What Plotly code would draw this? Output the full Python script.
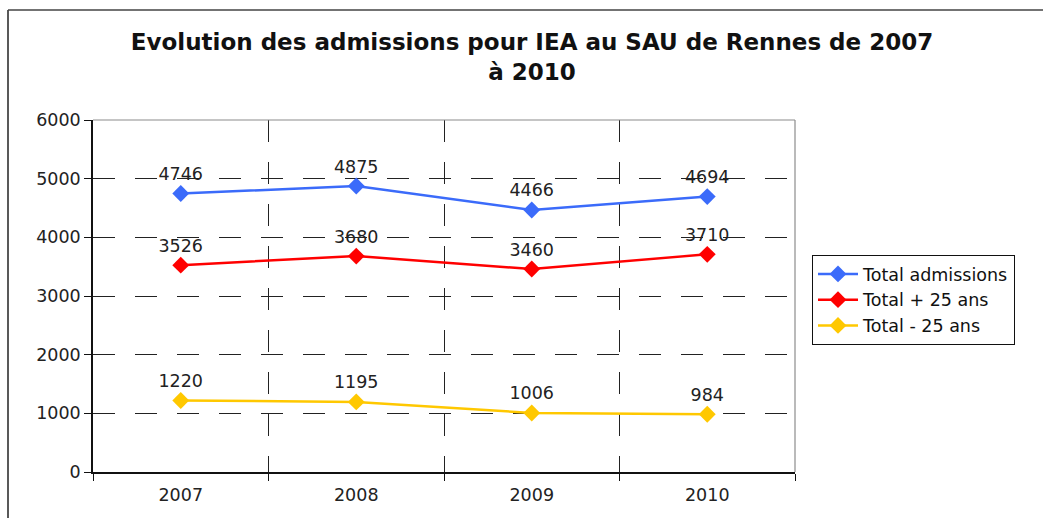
import plotly.graph_objects as go

years = ["2007", "2008", "2009", "2010"]
total_admissions = [4746, 4875, 4466, 4694]
total_plus_25 = [3526, 3680, 3460, 3710]
total_minus_25 = [1220, 1195, 1006, 984]

series = [
    ("Total admissions", total_admissions, "#3B6BFA"),
    ("Total + 25 ans", total_plus_25, "#FF0000"),
    ("Total - 25 ans", total_minus_25, "#FFC800"),
]

FONT = "DejaVu Sans"
W, H = 1043, 518
L, R, T, B = 93, 1043 - 795, 120, 518 - 472
pw, ph = W - L - R, H - T - B

fig = go.Figure()
for name, vals, col in series:
    fig.add_trace(go.Scatter(
        x=years, y=vals, name=name, mode="lines+markers+text",
        line=dict(color=col, width=2.5),
        marker=dict(symbol="diamond", size=13, color=col),
        text=[str(v) for v in vals], textposition="top center",
        textfont=dict(family=FONT, size=17.5, color="#222222"),
        cliponaxis=False,
    ))

def px_x(p):
    return (p - L) / pw

def px_y(p):
    return (H - B - p) / ph

shapes = [
    dict(type="line", xref="paper", yref="paper", x0=0, x1=1, y0=1, y1=1,
         line=dict(color="#8C8C8C", width=1.2), layer="above"),
    dict(type="line", xref="paper", yref="paper", x0=1, x1=1, y0=0, y1=1,
         line=dict(color="#8C8C8C", width=1.2), layer="above"),
    dict(type="line", xref="paper", yref="paper", x0=px_x(8), x1=px_x(8),
         y0=px_y(10), y1=px_y(520), line=dict(color="#222222", width=1.5)),
    dict(type="line", xref="paper", yref="paper", x0=px_x(8), x1=px_x(1045),
         y0=px_y(10), y1=px_y(10), line=dict(color="#444444", width=1.5)),
]

fig.update_layout(
    width=W, height=H,
    margin=dict(l=L, r=R, t=T, b=B),
    paper_bgcolor="white", plot_bgcolor="white",
    font=dict(family=FONT, size=17.5, color="#222222"),
    title=dict(
        text="<b>Evolution des admissions pour IEA au SAU de Rennes de 2007<br>à 2010</b>",
        x=532 / W, xanchor="center", xref="container",
        y=1 - 50 / H, yanchor="top", yref="container",
        font=dict(family=FONT, size=23, color="#111111"),
    ),
    showlegend=True,
    legend=dict(
        x=px_x(812), y=px_y(255), xanchor="left", yanchor="top",
        bordercolor="#111111", borderwidth=1, bgcolor="white",
        font=dict(family=FONT, size=17.5, color="#111111"),
        tracegroupgap=0, itemwidth=40,
    ),
    shapes=shapes,
)

fig.update_xaxes(
    type="category", range=[-0.5, 3.5], tickson="boundaries",
    showgrid=True, gridcolor="#222222", griddash="22px,20px", gridwidth=1,
    showline=True, linecolor="#111111", linewidth=1.5,
    ticks="outside", ticklen=7, tickcolor="#111111",
    tickfont=dict(family=FONT, size=17.5, color="#222222"),
    ticklabelstandoff=6,
    fixedrange=True,
)
fig.update_yaxes(
    range=[0, 6000], tickvals=[0, 1000, 2000, 3000, 4000, 5000, 6000],
    showgrid=True, gridcolor="#222222", griddash="22px,20px", gridwidth=1,
    showline=True, linecolor="#111111", linewidth=1.5,
    ticks="outside", ticklen=7, tickcolor="#111111",
    tickfont=dict(family=FONT, size=17.5, color="#222222"),
    zeroline=False, fixedrange=True,
)

fig.write_html("out.html", config={"displayModeBar": False},
               post_script="document.body.style.margin='0';")
